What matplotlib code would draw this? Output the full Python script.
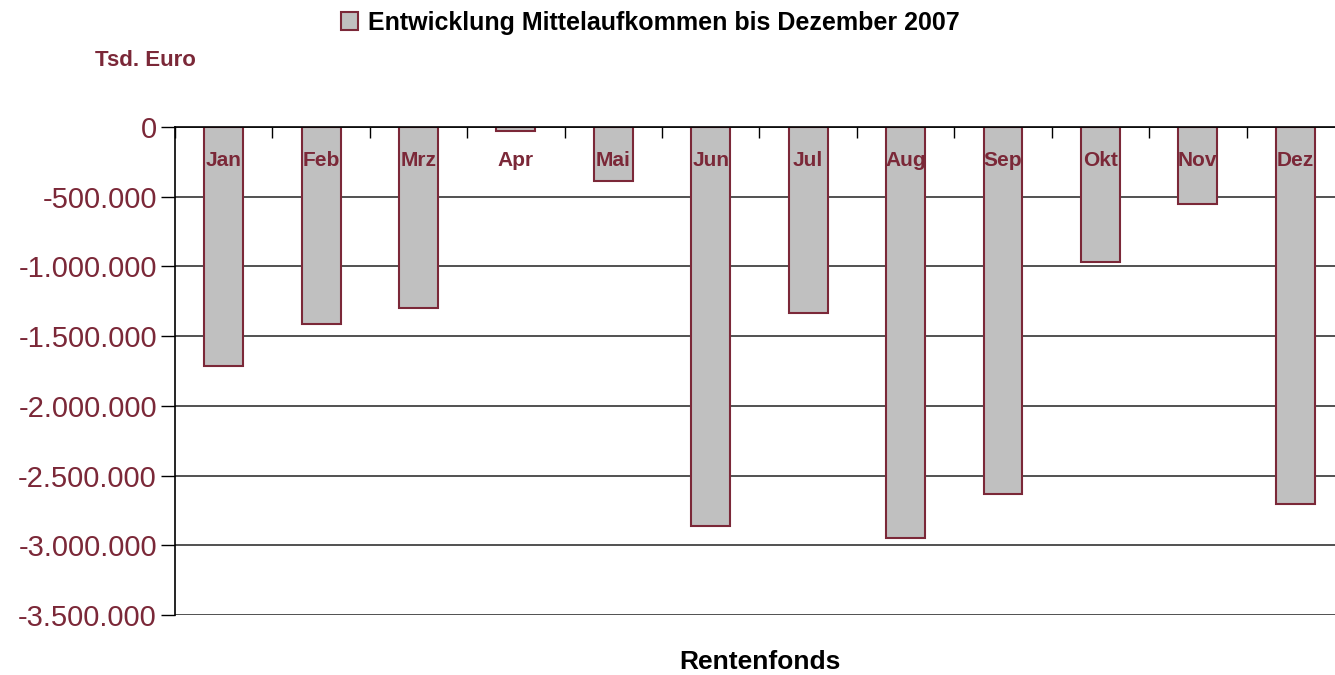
import matplotlib
matplotlib.use("Agg")
import numpy as np
from matplotlib import pyplot as plt
from matplotlib.ticker import FuncFormatter

months = ['Jan', 'Feb', 'Mrz', 'Apr', 'Mai', 'Jun', 'Jul', 'Aug', 'Sep', 'Okt', 'Nov', 'Dez']
# Mittelaufkommen Rentenfonds, Tsd. Euro
values = [-1715000, -1413000, -1298000, -29000, -387000, -2862000,
          -1334000, -2948000, -2633000, -968000, -552000, -2704000]
yticks = [0, -500000, -1000000, -1500000, -2000000, -2500000, -3000000, -3500000]

maroon = '#7B2838'
plt.rcParams['font.family'] = ['Liberation Sans', 'DejaVu Sans']

fig = plt.figure(figsize=(13.35, 6.75), dpi=100)
ax = fig.add_axes([0.1311, 0.0889, 0.8756, 0.7230])

x = np.arange(len(months))
bars = ax.bar(x, values, width=0.4, color='#C0C0C0', edgecolor=maroon, linewidth=1.5,
              label='Entwicklung Mittelaufkommen bis Dezember 2007', zorder=3)

ax.set_xlim(-0.5, len(months) - 0.5)
ax.set_ylim(-3500000, 0)
ax.set_yticks(yticks)
ax.yaxis.set_major_formatter(FuncFormatter(lambda v, p: f'{int(v):,}'.replace(',', '.')))
ax.tick_params(axis='y', labelsize=21, labelcolor=maroon, direction='out', length=10,
               width=1, color='black', pad=3)
ax.yaxis.grid(True, color='#333333', linewidth=1.2, zorder=0)

# category axis along y=0, month labels drawn inside the plot on top of the bars
ax.xaxis.tick_top()
ax.set_xticks([])
ax.set_xticks(np.arange(len(months) + 1) - 0.5, minor=True)
ax.tick_params(axis='x', which='minor', direction='in', length=8, width=1, color='black')
for xi, m in zip(x, months):
    ax.text(xi, 0.932, m, transform=ax.get_xaxis_transform(), ha='center', va='center',
            fontsize=15, fontweight='bold', color=maroon, zorder=6)

for side in ['right', 'bottom']:
    ax.spines[side].set_visible(False)
ax.spines['top'].set_color('black')
ax.spines['top'].set_linewidth(1.2)
ax.spines['top'].set_zorder(4)
ax.spines['left'].set_color('black')
ax.spines['left'].set_linewidth(1.2)

fig.text(0.071, 0.91, 'Tsd. Euro', fontsize=16, fontweight='bold', color=maroon,
         va='center', ha='left')
fig.text(0.569, 0.019, 'Rentenfonds', fontsize=19, fontweight='bold', color='black',
         va='center', ha='center')

leg = fig.legend(handles=[bars], loc='center', bbox_to_anchor=(0.487, 0.966),
                 frameon=False, fontsize=18, handlelength=0.7, handleheight=0.7,
                 handletextpad=0.4, borderpad=0)
for t in leg.get_texts():
    t.set_fontweight('bold')

fig.savefig('out.png', dpi=100)
